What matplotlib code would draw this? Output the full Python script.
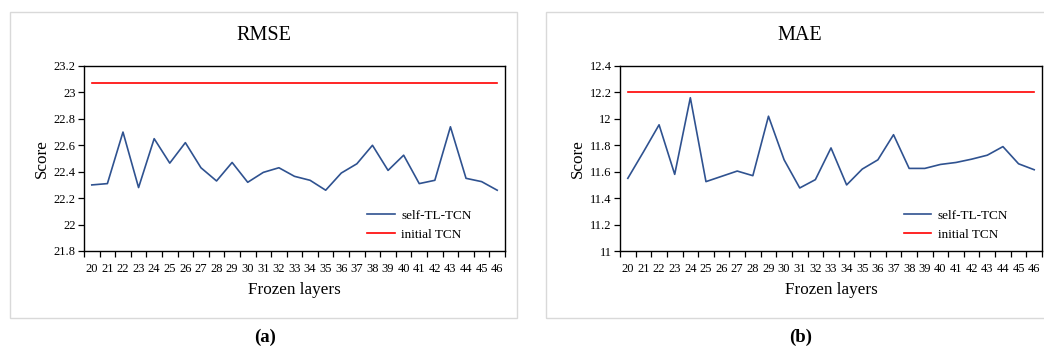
import matplotlib
matplotlib.use("Agg")
import matplotlib.pyplot as plt
from matplotlib.patches import Rectangle

plt.rcParams["font.family"] = ["Liberation Serif", "DejaVu Serif"]

layers = list(range(20, 47))

rmse_self = [22.30, 22.31, 22.70, 22.28, 22.65, 22.465, 22.62, 22.43, 22.33, 22.47,
             22.32, 22.395, 22.43, 22.365, 22.335, 22.26, 22.39, 22.46, 22.60, 22.41,
             22.525, 22.31, 22.335, 22.74, 22.35, 22.325, 22.26]
rmse_initial = 23.07

mae_self = [11.55, 11.75, 11.955, 11.58, 12.16, 11.525, 11.565, 11.605, 11.57, 12.02,
            11.69, 11.477, 11.54, 11.78, 11.50, 11.62, 11.69, 11.88, 11.625, 11.625,
            11.655, 11.67, 11.695, 11.725, 11.79, 11.66, 11.615]
mae_initial = 12.2

blue = "#2F5290"
red = "#FF0000"


def draw_panel(fig, rect, self_vals, init_val, ylim, yticks, ylabels):
    ax = fig.add_axes(rect)
    x = list(range(len(layers)))
    ax.plot(x, self_vals, color=blue, lw=1.2, label="self-TL-TCN")
    ax.plot(x, [init_val] * len(x), color=red, lw=1.2, label="initial TCN")

    ax.set_xlim(-0.5, len(layers) - 0.5)
    ax.set_ylim(*ylim)
    ax.set_xticks(x)
    ax.set_xticklabels([str(v) for v in layers], fontsize=9)
    ax.set_xticks([i - 0.5 for i in range(len(layers) + 1)], minor=True)
    ax.tick_params(axis="x", which="major", length=0, pad=9)
    ax.tick_params(axis="x", which="minor", length=4, width=0.9, direction="out")
    ax.set_yticks(yticks)
    ax.set_yticklabels(ylabels, fontsize=9)
    ax.tick_params(axis="y", length=4, width=0.9, direction="out", pad=2)
    for s in ax.spines.values():
        s.set_linewidth(1.0)

    ax.set_xlabel("Frozen layers", fontsize=12.3, labelpad=5)
    ax.set_ylabel("Score", fontsize=12.3, labelpad=3)
    ax.legend(loc="lower left", bbox_to_anchor=(0.672, 0.055), frameon=False,
              borderpad=0, borderaxespad=0,
              fontsize=9.5, handlelength=2.1, handletextpad=0.5, labelspacing=0.5)
    return ax


fig = plt.figure(figsize=(10.44, 3.49), dpi=100)

fig.patches.append(Rectangle((10 / 1044, 1 - 318 / 349), 507 / 1044, 306 / 349,
                             transform=fig.transFigure, fill=False,
                             edgecolor="#D9D9D9", lw=1.0))
fig.patches.append(Rectangle((546 / 1044, 1 - 318 / 349), 520 / 1044, 306 / 349,
                             transform=fig.transFigure, fill=False,
                             edgecolor="#D9D9D9", lw=1.0))

draw_panel(fig, [84 / 1044, 1 - 251 / 349, 421 / 1044, 185 / 349],
           rmse_self, rmse_initial, (21.8, 23.2),
           [21.8, 22.0, 22.2, 22.4, 22.6, 22.8, 23.0, 23.2],
           ["21.8", "22", "22.2", "22.4", "22.6", "22.8", "23", "23.2"])

draw_panel(fig, [620 / 1044, 1 - 251 / 349, 422 / 1044, 185 / 349],
           mae_self, mae_initial, (11.0, 12.4),
           [11.0, 11.2, 11.4, 11.6, 11.8, 12.0, 12.2, 12.4],
           ["11", "11.2", "11.4", "11.6", "11.8", "12", "12.2", "12.4"])

fig.text(264 / 1044, 1 - 35 / 349, "RMSE", ha="center", va="center", fontsize=14.5)
fig.text(800 / 1044, 1 - 35 / 349, "MAE", ha="center", va="center", fontsize=14.5)

fig.text(265 / 1044, 1 - 337 / 349, "(a)", ha="center", va="center",
         fontsize=13.5, fontweight="bold")
fig.text(801 / 1044, 1 - 337 / 349, "(b)", ha="center", va="center",
         fontsize=13.5, fontweight="bold")

fig.savefig("out.png", dpi=100)
